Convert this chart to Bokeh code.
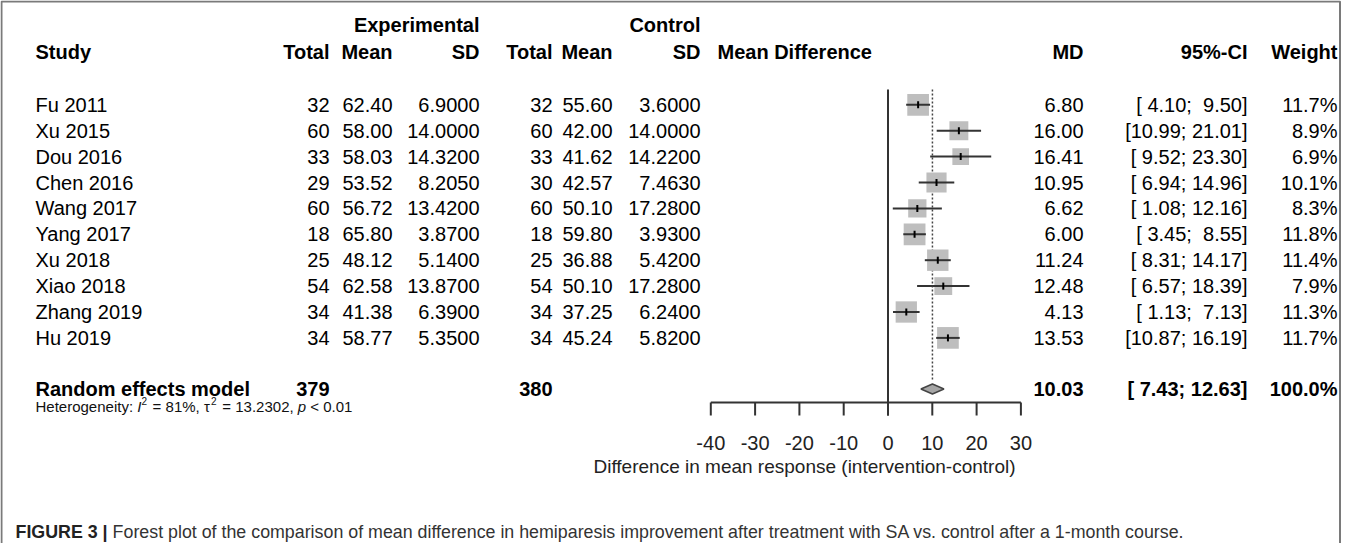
import subprocess
import numpy as np
from bokeh.plotting import figure
from bokeh.models import Range1d
from bokeh.core.properties import value
from bokeh.embed import file_html
from bokeh.resources import INLINE

# ---------------- data ----------------
studies = ["Fu 2011", "Xu 2015", "Dou 2016", "Chen 2016", "Wang 2017",
           "Yang 2017", "Xu 2018", "Xiao 2018", "Zhang 2019", "Hu 2019"]
exp_total = [32, 60, 33, 29, 60, 18, 25, 54, 34, 34]
exp_mean = [62.40, 58.00, 58.03, 53.52, 56.72, 65.80, 48.12, 62.58, 41.38, 58.77]
exp_sd = [6.9000, 14.0000, 14.3200, 8.2050, 13.4200, 3.8700, 5.1400, 13.8700, 6.3900, 5.3500]
ctrl_total = [32, 60, 33, 30, 60, 18, 25, 54, 34, 34]
ctrl_mean = [55.60, 42.00, 41.62, 42.57, 50.10, 59.80, 36.88, 50.10, 37.25, 45.24]
ctrl_sd = [3.6000, 14.0000, 14.2200, 7.4630, 17.2800, 3.9300, 5.4200, 17.2800, 6.2400, 5.8200]
md = [6.80, 16.00, 16.41, 10.95, 6.62, 6.00, 11.24, 12.48, 4.13, 13.53]
ci_lo = [4.10, 10.99, 9.52, 6.94, 1.08, 3.45, 8.31, 6.57, 1.13, 10.87]
ci_hi = [9.50, 21.01, 23.30, 14.96, 12.16, 8.55, 14.17, 18.39, 7.13, 16.19]
weight = [11.7, 8.9, 6.9, 10.1, 8.3, 11.8, 11.4, 7.9, 11.3, 11.7]

pooled_label = "Random effects model"
pooled_md = 10.03
pooled_lo = 7.43
pooled_hi = 12.63
pooled_weight = 100.0
exp_total_sum = 379
ctrl_total_sum = 380
het_i2 = 81
het_tau2 = 13.2302
het_p = "< 0.01"

x_ticks = [-40, -30, -20, -10, 0, 10, 20, 30]
x_label = "Difference in mean response (intervention-control)"
group_labels = ["Experimental", "Control"]
caption_bold = "FIGURE 3 |"
caption_text = ("Forest plot of the comparison of mean difference in hemiparesis improvement "
                "after treatment with SA vs. control after a 1-month course.")

# ---------------- layout ----------------
W, H = 1341, 543
OFF = 8                    # page margin
ROW0 = 112.3               # page y of first study row
ROWH = 25.9                # row height (px)
ZERO_X = 895.5             # page x of MD = 0
PXU = 4.43                 # px per MD unit

def r_of(page_y):
    return (page_y - ROW0) / ROWH

FONT = value("Liberation Sans")
FS = 20

# caption font: condensed if available, else regular
try:
    fl = subprocess.run(["fc-list"], capture_output=True, text=True, timeout=10).stdout
except Exception:
    fl = ""
if "Liberation Sans Narrow" in fl:
    CAP_FONT, NARROW = value("Liberation Sans Narrow"), 0.82
else:
    CAP_FONT, NARROW = value("Liberation Sans"), 1.0

C_STUDY, C_ETOT, C_EMEAN, C_ESD = 43, 337, 400, 487
C_CTOT, C_CMEAN, C_CSD = 560, 620, 708
C_MDHEAD, C_MD, C_CI, C_W = 725, 1091, 1255, 1345

R_GROUP, R_HEAD = r_of(32.5), r_of(59.5)
R_POOL = r_of(396.5)
R_HET = r_of(414)
R_AXIS = r_of(410)
R_TICK = r_of(423)
R_TLAB = r_of(450)
R_XLAB = r_of(474)
R_CAP = r_of(539)
R_LINE_TOP = r_of(97)

# Arial / Liberation Sans advance widths (1/1000 em)
REG = dict(zip(" !%(),-.:;<=>[]|", [278, 278, 889, 333, 333, 278, 333, 278, 278, 278, 584, 584, 584, 278, 278, 260]))
REG.update({d: 556 for d in "0123456789"})
REG.update(dict(zip("ABCDEFGHIJKLMNOPQRSTUVWXYZ",
                    [667, 667, 722, 722, 667, 611, 778, 722, 278, 500, 667, 556, 833, 722, 778, 667, 778, 722, 667, 611, 722, 667, 944, 667, 667, 611])))
REG.update(dict(zip("abcdefghijklmnopqrstuvwxyz",
                    [556, 556, 500, 556, 556, 278, 556, 556, 222, 222, 500, 222, 833, 556, 556, 556, 556, 333, 500, 278, 556, 500, 722, 500, 500, 500])))
REG["τ"] = 480
BOLD = dict(REG)
BOLD.update(dict(zip("ABCDEFGHIJKLMNOPQRSTUVWXYZ",
                     [722, 722, 722, 722, 667, 611, 778, 722, 278, 556, 722, 611, 833, 722, 778, 667, 778, 722, 667, 611, 722, 667, 944, 667, 667, 611])))
BOLD["|"] = 280

def tw(s, size, table=REG):
    return sum(table.get(c, 556) for c in s) / 1000.0 * size

p = figure(width=W, height=H, output_backend="svg", toolbar_location=None,
           x_range=Range1d(OFF, OFF + W),
           y_range=Range1d(r_of(OFF + H), r_of(OFF)),
           x_axis_location=None, y_axis_location=None, min_border=0)
p.grid.visible = False
p.outline_line_color = None
p.background_fill_color = "white"
p.border_fill_color = "white"
p.extra_x_ranges = {"md": Range1d((OFF - ZERO_X) / PXU, (OFF + W - ZERO_X) / PXU)}

def txt(x, y, t, align="left", style="normal", size=FS, color="black", xr="default", font=FONT):
    if not isinstance(x, (list, tuple, np.ndarray)):
        x, y, t = [x], [y], [t]
    elif not isinstance(y, (list, tuple, np.ndarray)):
        y = [y] * len(x)
    p.text(x=list(x), y=list(y), text=list(t), text_font=font, text_font_size=f"{size}px",
           text_font_style=style, text_align=align, text_baseline="middle",
           text_color=color, x_range_name=xr)

rows = list(range(len(studies)))

# frame border (left, top, right)
bx0, bx1 = OFF + 1, OFF + W - 1.5
p.line(x=[bx0, bx0, bx1, bx1], y=[r_of(OFF + H + 5), r_of(OFF + 1), r_of(OFF + 1), r_of(OFF + H + 5)],
       line_color="#7a7a7a", line_width=2)

# headers
txt(C_ESD, R_GROUP, group_labels[0], "right", "bold")
txt(C_CSD, R_GROUP, group_labels[1], "right", "bold")
txt(C_STUDY, R_HEAD, "Study", "left", "bold")
for x, lab in [(C_ETOT, "Total"), (C_EMEAN, "Mean"), (C_ESD, "SD"), (C_CTOT, "Total"),
               (C_CMEAN, "Mean"), (C_CSD, "SD"), (C_MD, "MD"), (C_CI, "95%-CI"), (C_W, "Weight")]:
    txt(x, R_HEAD, lab, "right", "bold")
txt(C_MDHEAD, R_HEAD, "Mean Difference", "left", "bold")

# study rows
def ci_str(lo, hi):
    return ("[" + f"{lo:5.2f}" + "; " + f"{hi:5.2f}" + "]").replace(" ", "\u00a0")

n = len(studies)
txt([C_STUDY] * n, rows, studies, "left")
txt([C_ETOT] * n, rows, [str(v) for v in exp_total], "right")
txt([C_EMEAN] * n, rows, [f"{v:.2f}" for v in exp_mean], "right")
txt([C_ESD] * n, rows, [f"{v:.4f}" for v in exp_sd], "right")
txt([C_CTOT] * n, rows, [str(v) for v in ctrl_total], "right")
txt([C_CMEAN] * n, rows, [f"{v:.2f}" for v in ctrl_mean], "right")
txt([C_CSD] * n, rows, [f"{v:.4f}" for v in ctrl_sd], "right")
txt([C_MD] * n, rows, [f"{v:.2f}" for v in md], "right")
txt([C_CI] * n, rows, [ci_str(a, b) for a, b in zip(ci_lo, ci_hi)], "right")
txt([C_W] * n, rows, [f"{w:.1f}%" for w in weight], "right")

# pooled row
txt(C_STUDY, R_POOL, pooled_label, "left", "bold")
txt(C_ETOT, R_POOL, str(exp_total_sum), "right", "bold")
txt(C_CTOT, R_POOL, str(ctrl_total_sum), "right", "bold")
txt(C_MD, R_POOL, f"{pooled_md:.2f}", "right", "bold")
txt(C_CI, R_POOL, ci_str(pooled_lo, pooled_hi), "right", "bold")
txt(C_W, R_POOL, f"{pooled_weight:.1f}%", "right", "bold")

# heterogeneity line (pieces for italics and superscripts)
HS, SS = 15, 10
pieces = [("Heterogeneity: ", "normal", HS, 0), ("I", "italic", HS, 0), ("2", "normal", SS, 1),
          (" = " + f"{het_i2}%, ", "normal", HS, 0), ("τ", "normal", HS, 0), ("2", "normal", SS, 1),
          (" = " + f"{het_tau2:.4f}, ", "normal", HS, 0), ("p", "italic", HS, 0),
          (" " + het_p, "normal", HS, 0)]
cx = C_STUDY
for s, st, sz, sup in pieces:
    lead = tw(s[:len(s) - len(s.lstrip())], sz)
    yy = R_HET - (5.5 / ROWH if sup else 0)
    if s.strip():
        txt(cx + lead, yy, s.strip(), "left", st, sz, "#111111")
    cx += tw(s, sz) + (1.5 if sup else 0)

# forest: zero line, pooled dotted line
p.segment(x0=[0], y0=[R_LINE_TOP], x1=[0], y1=[R_TICK], x_range_name="md",
          line_color="#333333", line_width=2)
p.segment(x0=[pooled_md], y0=[R_LINE_TOP], x1=[pooled_md], y1=[R_POOL - 0.3], x_range_name="md",
          line_color="#444444", line_width=1.5, line_dash="2 2")

# squares (area proportional to weight)
sizes = [6.34 * np.sqrt(w) for w in weight]
p.scatter(x=md, y=rows, size=sizes, marker="square", fill_color="#bebebe",
          line_color=None, x_range_name="md")
p.segment(x0=ci_lo, y0=rows, x1=ci_hi, y1=rows, x_range_name="md",
          line_color="#333333", line_width=2)
p.scatter(x=md, y=rows, size=7, marker="dash", angle=np.pi / 2, line_color="black",
          line_width=2, x_range_name="md")

# diamond
dh = 5.0 / ROWH
p.patch(x=[pooled_lo, pooled_md, pooled_hi, pooled_md],
        y=[R_POOL, R_POOL - dh, R_POOL, R_POOL + dh], x_range_name="md",
        fill_color="#a6a6a6", line_color="#444444", line_width=1.5)

# x axis (drawn through the md scale)
p.segment(x0=[min(x_ticks)], y0=[R_AXIS], x1=[max(x_ticks)], y1=[R_AXIS], x_range_name="md",
          line_color="#333333", line_width=2)
p.segment(x0=x_ticks, y0=[R_AXIS] * len(x_ticks), x1=x_ticks, y1=[R_TICK] * len(x_ticks),
          x_range_name="md", line_color="#333333", line_width=2)
txt(x_ticks, R_TLAB, [str(t) for t in x_ticks], "center", "normal", 20, "#222222", "md")
txt(812, R_XLAB, x_label, "center", "normal", 19, "#222222")

# caption
cap_left, cap_right = 23, 1193
wb = tw(caption_bold, 1, BOLD) * NARROW
wsp = tw(" ", 1) * NARROW
wr = tw(caption_text, 1) * NARROW
cap_size = (cap_right - cap_left) / (wb + wsp + wr)
txt(cap_left, R_CAP, caption_bold, "left", "bold", round(cap_size, 2), "#222222", font=CAP_FONT)
txt(cap_left + (wb + wsp) * cap_size, R_CAP, caption_text, "left", "normal",
    round(cap_size, 2), "#333333", font=CAP_FONT)

open("out.html", "w").write(file_html(p, INLINE))
